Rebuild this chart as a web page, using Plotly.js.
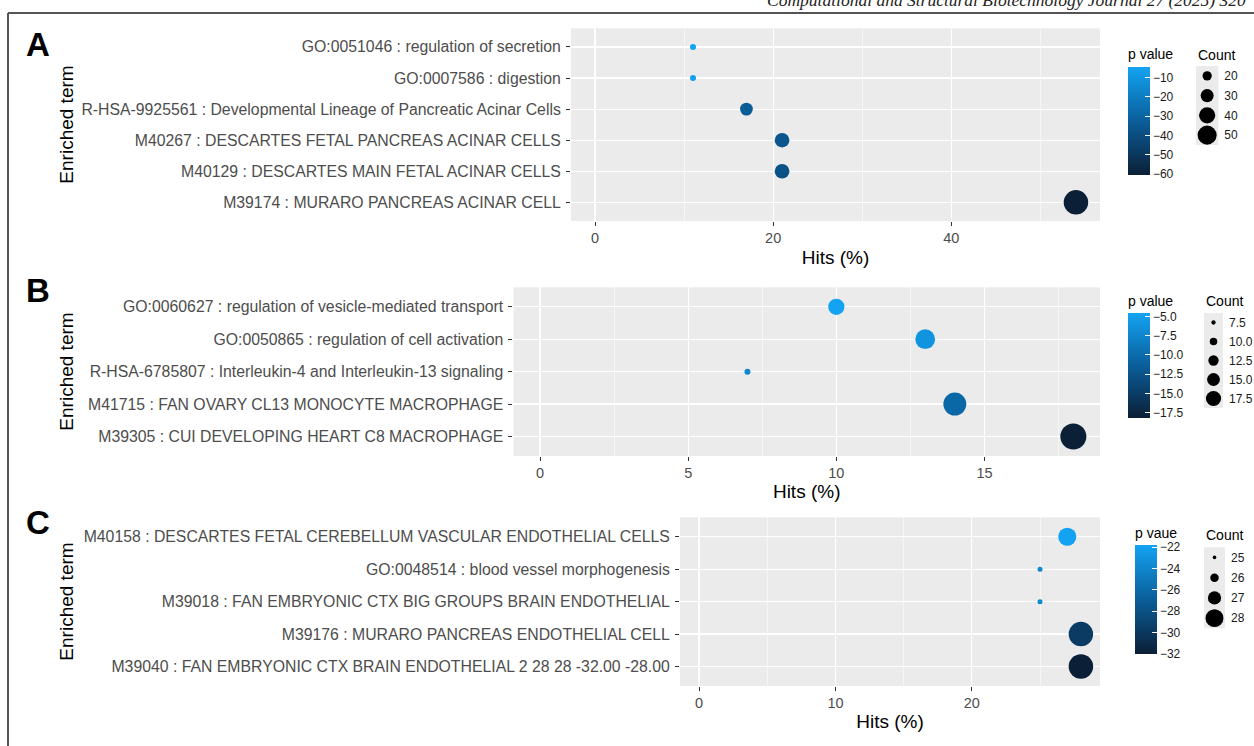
<!DOCTYPE html>
<html>
<head>
<meta charset="utf-8">
<script src="https://cdn.plot.ly/plotly-3.0.1.min.js"></script>
<style>html,body{margin:0;padding:0;background:#fff;}#chart{width:1254px;height:746px;}</style>
</head>
<body>
<div id="chart"></div>
<script>
// ---------- DATA ----------
const termsA = [
  "GO:0051046 : regulation of secretion",
  "GO:0007586 : digestion",
  "R-HSA-9925561 : Developmental Lineage of Pancreatic Acinar Cells",
  "M40267 : DESCARTES FETAL PANCREAS ACINAR CELLS",
  "M40129 : DESCARTES MAIN FETAL ACINAR CELLS",
  "M39174 : MURARO PANCREAS ACINAR CELL"
];
const hitsA   = [11, 11, 17, 21, 21, 54];
const pvalA   = [-4.3, -6, -33, -36, -38, -60.3];
const countA  = [11, 11, 23, 27, 27, 54];
const countBreaksA = [20, 30, 40, 50];

const termsB = [
  "GO:0060627 : regulation of vesicle-mediated transport",
  "GO:0050865 : regulation of cell activation",
  "R-HSA-6785807 : Interleukin-4 and Interleukin-13 signaling",
  "M41715 : FAN OVARY CL13 MONOCYTE MACROPHAGE",
  "M39305 : CUI DEVELOPING HEART C8 MACROPHAGE"
];
const hitsB   = [10, 13, 7, 14, 18];
const pvalB   = [-4.6, -6.1, -7.3, -10.4, -18.2];
const countB  = [12, 14, 7, 16, 18];
const countBreaksB = [7.5, 10, 12.5, 15, 17.5];

const termsC = [
  "M40158 : DESCARTES FETAL CEREBELLUM VASCULAR ENDOTHELIAL CELLS",
  "GO:0048514 : blood vessel morphogenesis",
  "M39018 : FAN EMBRYONIC CTX BIG GROUPS BRAIN ENDOTHELIAL",
  "M39176 : MURARO PANCREAS ENDOTHELIAL CELL",
  "M39040 : FAN EMBRYONIC CTX BRAIN ENDOTHELIAL 2 28 28 -32.00 -28.00"
];
const hitsC   = [27, 25, 25, 28, 28];
const pvalC   = [-21.8, -23.8, -23.8, -29.7, -32];
const countC  = [27, 25, 25, 28, 28];
const countBreaksC = [25, 26, 27, 28];

// ---------- STYLE / LAYOUT CONFIG ----------
const W = 1254, H = 746;
const px = v => v / W;
const py = v => 1 - v / H;
const FONT = "Liberation Sans, Arial, Helvetica, sans-serif";
const colorscale = [[0, '#0B1F36'], [0.5, '#0A5E9A'], [1, '#13A3F2']];
const CB_TITLE_H = 21; // room Plotly reserves for a top colorbar title

const panels = [
  {letter:'A', terms:termsA, hits:hitsA, pval:pvalA, count:countA, breaks:countBreaksA, brkDec:0,
   box:[571, 1100, 28.3, 221], dtick:20, minor:10, dmin:6, dmax:24.5, legF:0.82,
   cb:{x:1128, top:66.7, len:108, dtick:10, fmt:'d', title:'p value'},
   cnt:{box:[1196, 1218.3, 66, 145], titleY:55}, letterY:44, standoff:5},
  {letter:'B', terms:termsB, hits:hitsB, pval:pvalB, count:countB, breaks:countBreaksB, brkDec:1,
   box:[513.4, 1100, 287.3, 456], dtick:5, minor:2.5, dmin:6, dmax:26, legF:0.6,
   cb:{x:1128, top:313.3, len:105, dtick:2.5, fmt:'.1f', title:'p value'},
   cnt:{box:[1204, 1223, 313, 408], titleY:301}, letterY:290, standoff:4},
  {letter:'C', terms:termsC, hits:hitsC, pval:pvalC, count:countC, breaks:countBreaksC, brkDec:0,
   box:[680, 1100, 517.3, 686], dtick:10, minor:5, dmin:5, dmax:24.5, legF:0.73,
   cb:{x:1135, top:545, len:108.5, dtick:2, fmt:'d', title:'p vaue'},
   cnt:{box:[1204, 1225, 547.3, 628.3], titleY:535}, letterY:522, standoff:4}
];

const traces = [];
const layout = {
  width: W, height: H,
  margin: {l:0, r:0, t:0, b:0},
  paper_bgcolor: '#ffffff',
  plot_bgcolor: '#EBEBEB',
  font: {family: FONT, color: '#000'},
  showlegend: false,
  annotations: [],
  shapes: [
    {type:'line', xref:'paper', yref:'paper', x0:px(8), x1:1, y0:py(13), y1:py(13), line:{color:'#555', width:2}},
    {type:'line', xref:'paper', yref:'paper', x0:px(8), x1:px(8), y0:py(13), y1:0, line:{color:'#555', width:2}}
  ]
};

panels.forEach((p, i) => {
  const n = p.terms.length;
  const ax = i + 1, lx = i + 4;
  const cmin = Math.min(...p.count), cmax = Math.max(...p.count);
  const s0 = Math.sqrt(cmin), s1 = Math.sqrt(cmax);
  const diam = c => p.dmin + (p.dmax - p.dmin) * (Math.sqrt(c) - s0) / (s1 - s0);
  const lo = Math.min(0, ...p.hits), hi = Math.max(...p.hits);
  const pad = 0.05 * (hi - lo);

  traces.push({
    type:'scatter', mode:'markers',
    x: p.hits, y: p.terms,
    xaxis: 'x' + ax, yaxis: 'y' + ax,
    hoverinfo: 'x+y',
    marker: {
      size: p.count.map(diam), sizemode:'diameter', opacity: 1,
      color: p.pval, colorscale: colorscale, showscale: true,
      line: {width: 0},
      colorbar: {
        x: px(p.cb.x), xanchor:'left', y: py(p.cb.top - CB_TITLE_H), yanchor:'top',
        len: p.cb.len + CB_TITLE_H, lenmode:'pixels', thickness: 22, thicknessmode:'pixels',
        outlinewidth: 0, xpad: 0, ypad: 0,
        ticks:'inside', ticklen:5, tickcolor:'#ffffff', tickwidth:1,
        tick0: 0, dtick: p.cb.dtick, tickformat: p.cb.fmt,
        tickfont: {size: 12, color: '#1a1a1a', family: FONT},
        title: {text: p.cb.title, side:'top', font:{size: 14, color:'#000', family: FONT}}
      }
    }
  });

  // Count legend drawn as a tiny subplot from the break values
  traces.push({
    type:'scatter', mode:'markers',
    x: p.breaks.map(() => 'Count'), y: p.breaks.map(b => b.toFixed(p.brkDec)),
    xaxis: 'x' + lx, yaxis: 'y' + lx,
    hoverinfo: 'y',
    marker: {size: p.breaks.map(b => diam(b) * p.legF), sizemode:'diameter', opacity: 1, color:'#000', line:{width:0}}
  });

  const [bx0, bx1, by0, by1] = p.box;
  layout['xaxis' + ax] = {
    domain: [px(bx0), px(bx1)], anchor: 'y' + ax,
    range: [lo - pad, hi + pad], tick0: 0, dtick: p.dtick,
    showgrid: true, gridcolor: '#ffffff', gridwidth: 1.2,
    minor: {dtick: p.minor, tick0: 0, showgrid: true, gridcolor: '#ffffff', gridwidth: 0.55},
    zeroline: false, showline: false,
    ticks: 'outside', ticklen: 4, tickcolor: '#333', tickwidth: 1,
    tickfont: {size: 14.5, color: '#4D4D4D', family: FONT},
    title: {text: 'Hits (%)', font: {size: 19, color: '#000', family: FONT}, standoff: p.standoff}
  };
  layout['yaxis' + ax] = {
    domain: [py(by1), py(by0)], anchor: 'x' + ax,
    type: 'category', range: [n - 1 + 0.6, -0.6],
    showgrid: true, gridcolor: '#ffffff', gridwidth: 1.2,
    zeroline: false, showline: false,
    ticks: 'outside', ticklen: 4, tickcolor: '#333', tickwidth: 1,
    ticklabelstandoff: 2,
    tickfont: {size: 15.8, color: '#4D4D4D', family: FONT}
  };

  const [lx0, lx1, ly0, ly1] = p.cnt.box;
  const nb = p.breaks.length;
  layout['xaxis' + lx] = {
    domain: [px(lx0), px(lx1)], anchor: 'y' + lx, type: 'category',
    range: [-0.5, 0.5], showgrid: false, zeroline: false, showline: false,
    showticklabels: false, ticks: '', fixedrange: true
  };
  layout['yaxis' + lx] = {
    domain: [py(ly1), py(ly0)], anchor: 'x' + lx, type: 'category', side: 'right',
    range: [nb - 0.5, -0.5], showgrid: false, zeroline: false, showline: false,
    ticks: '', ticklabelstandoff: 5, fixedrange: true,
    tickfont: {size: 12, color: '#1a1a1a', family: FONT}
  };

  layout.annotations.push(
    {text: '<b>' + p.letter + '</b>', xref:'paper', yref:'paper', x: px(38), y: py(p.letterY), xanchor:'center', yanchor:'middle',
     showarrow:false, font:{size:33, color:'#000', family: FONT}},
    {text: 'Enriched term', xref:'paper', yref:'paper', x: px(67), y: py((by0 + by1) / 2), xanchor:'center', yanchor:'middle',
     textangle: -90, showarrow:false, font:{size:19, color:'#000', family: FONT}},
    {text: 'Count', xref:'paper', yref:'paper', x: px(lx0), y: py(p.cnt.titleY), xanchor:'left', yanchor:'middle',
     showarrow:false, font:{size:14, color:'#000', family: FONT}}
  );
});

layout.annotations.push({
  text: '<i>Computational and Structural Biotechnology Journal 27 (2025) 320</i>',
  xref:'paper', yref:'paper', x: px(765), y: py(0), xanchor:'left', yanchor:'middle',
  showarrow:false, font:{size:17.5, color:'#222', family:'Liberation Serif, DejaVu Serif, serif'}
});

Plotly.newPlot('chart', traces, layout, {displayModeBar:false, staticPlot:true});
</script>
</body>
</html>
